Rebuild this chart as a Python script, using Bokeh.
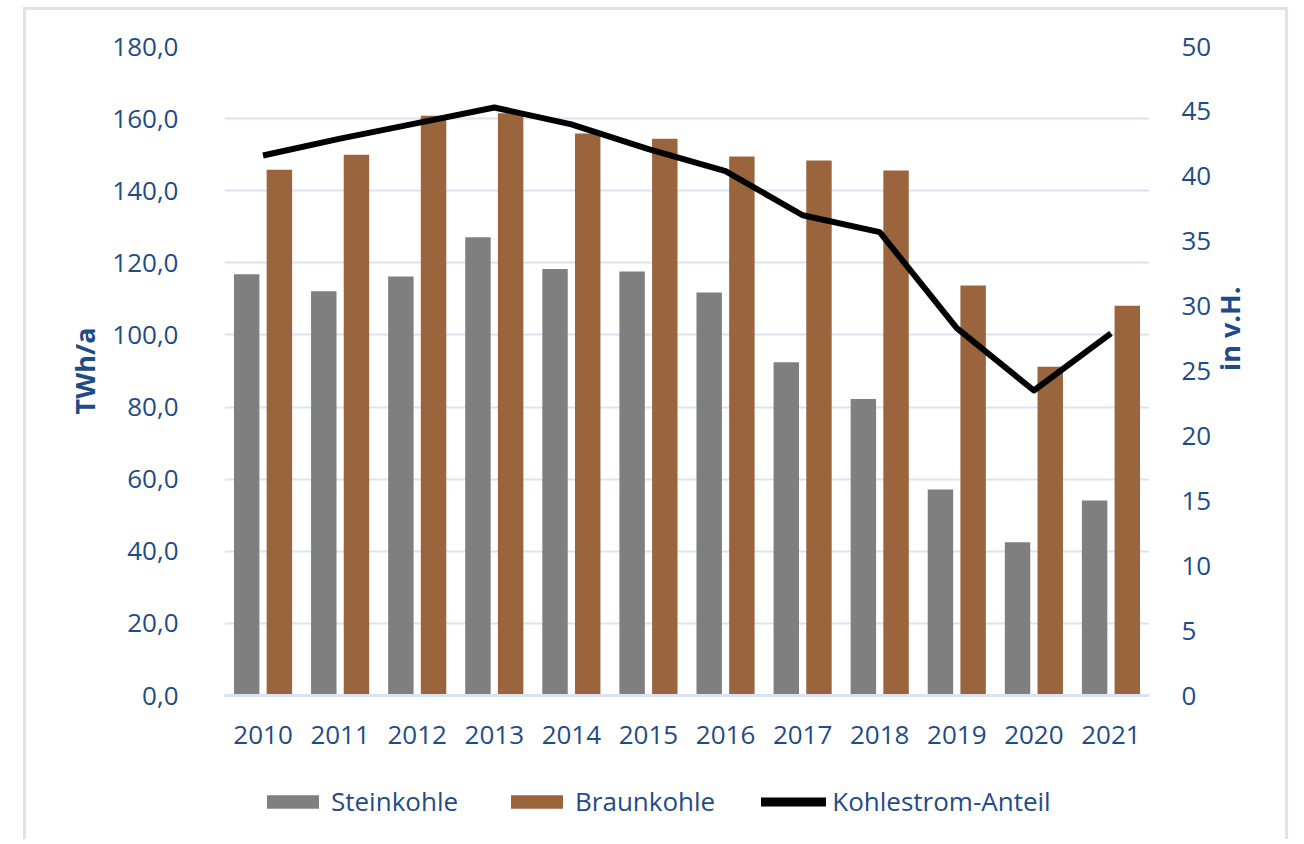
import math
from bokeh.plotting import figure
from bokeh.layouts import column
from bokeh.models import (FactorRange, Range1d, LinearAxis, FixedTicker, Legend, LegendItem,
                          ColumnDataSource)
from bokeh.transform import dodge
from bokeh.embed import file_html
from bokeh.resources import INLINE

years = ["2010", "2011", "2012", "2013", "2014", "2015", "2016", "2017", "2018", "2019", "2020", "2021"]
steinkohle = [116.8, 112.1, 116.2, 127.1, 118.3, 117.6, 111.8, 92.4, 82.2, 57.1, 42.5, 54.1]
braunkohle = [145.8, 150.0, 160.8, 161.5, 155.9, 154.4, 149.5, 148.4, 145.6, 113.7, 91.2, 108.1]
anteil = [41.6, 42.9, 44.1, 45.3, 44.0, 42.1, 40.4, 37.0, 35.7, 28.3, 23.5, 27.9]

left_ticks = [0, 20, 40, 60, 80, 100, 120, 140, 160, 180]
left_labels = ["0,0", "20,0", "40,0", "60,0", "80,0", "100,0", "120,0", "140,0", "160,0", "180,0"]
right_ticks = [0, 5, 10, 15, 20, 25, 30, 35, 40, 45, 50]
series_names = ["Steinkohle", "Braunkohle", "Kohlestrom-Anteil"]

TXT = "#1f4c86"
GRID = "#dae3f3"
FONT = "Open Sans"
STEIN_C = "#7f7f7f"
BRAUN_C = "#9a643d"

src = ColumnDataSource(dict(year=years, stein=steinkohle, braun=braunkohle, anteil=anteil))
xr = FactorRange(*years)

# ---------------- main chart ----------------
p = figure(x_range=xr, y_range=Range1d(0, 180),
           width=1265, height=750, output_backend="svg", toolbar_location=None,
           min_border_left=198, min_border_right=142, min_border_top=36, min_border_bottom=65)
p.margin = (7, 0, 0, 23)
p.styles = {"border-top": f"3px solid {GRID}", "border-left": f"3px solid {GRID}",
            "border-right": f"3px solid {GRID}"}
p.outline_line_color = None
p.background_fill_color = "white"
p.border_fill_color = "white"
p.extra_y_ranges = {"pct": Range1d(0, 50)}

p.vbar(x=dodge("year", -0.212, range=xr), top="stein", width=0.33, source=src,
       fill_color=STEIN_C, line_color=None)
p.vbar(x=dodge("year", 0.212, range=xr), top="braun", width=0.33, source=src,
       fill_color=BRAUN_C, line_color=None)
p.line(x="year", y="anteil", source=src, y_range_name="pct",
       line_color="black", line_width=6, line_join="round")

ya = p.yaxis[0]
ya.ticker = FixedTicker(ticks=left_ticks)
ya.major_label_overrides = {t: l for t, l in zip(left_ticks, left_labels)}
ya.axis_label = "TWh/a"

ra = LinearAxis(y_range_name="pct", ticker=FixedTicker(ticks=right_ticks), axis_label="in v.H.")
p.add_layout(ra, "right")

for ax in [ya, ra]:
    ax.axis_line_color = None
    ax.major_tick_line_color = None
    ax.minor_tick_line_color = None
    ax.major_label_text_font = FONT
    ax.major_label_text_font_size = "26px"
    ax.major_label_text_color = TXT
    ax.axis_label_text_font = FONT
    ax.axis_label_text_font_size = "27px"
    ax.axis_label_text_font_style = "bold"
    ax.axis_label_text_color = TXT
ya.axis_label_standoff = 6
ra.axis_label_standoff = 15
ra.axis_label_orientation = math.pi / 2
ya.major_label_standoff = 40
ra.major_label_standoff = 26

xa = p.xaxis[0]
xa.axis_line_color = GRID
xa.axis_line_width = 3
xa.major_tick_line_color = None
xa.minor_tick_line_color = None
xa.major_label_text_font = FONT
xa.major_label_text_font_size = "26px"
xa.major_label_text_color = TXT
xa.major_label_standoff = 24

p.xgrid.grid_line_color = None
p.ygrid.grid_line_color = GRID
p.ygrid.grid_line_width = 2

# ---------------- legend strip ----------------
p2 = figure(x_range=xr, y_range=Range1d(1000, 1001), width=1265, height=82,
            output_backend="svg", toolbar_location=None, x_axis_type=None, y_axis_type=None,
            min_border_left=0, min_border_right=0, min_border_top=0, min_border_bottom=0)
p2.margin = (0, 0, 0, 23)
p2.styles = {"border-left": f"3px solid {GRID}", "border-right": f"3px solid {GRID}"}
p2.outline_line_color = None
p2.xgrid.grid_line_color = None
p2.ygrid.grid_line_color = None
p2.background_fill_color = "white"
p2.border_fill_color = "white"

l_stein = p2.vbar(x=dodge("year", -0.212, range=xr), top="stein", width=0.33, source=src,
                  fill_color=STEIN_C, line_color=None)
l_braun = p2.vbar(x=dodge("year", 0.212, range=xr), top="braun", width=0.33, source=src,
                  fill_color=BRAUN_C, line_color=None)
l_line = p2.line(x="year", y="anteil", source=src, line_color="black", line_width=9,
                 line_cap="round")

legend = Legend(items=[LegendItem(label=series_names[0], renderers=[l_stein]),
                       LegendItem(label=series_names[1], renderers=[l_braun]),
                       LegendItem(label=series_names[2], renderers=[l_line])],
                orientation="horizontal", location=(36, 20))
legend.glyph_width = 65
legend.glyph_height = 17
legend.label_standoff = 6
legend.spacing = 46
legend.padding = 0
legend.margin = 0
legend.border_line_color = None
legend.background_fill_alpha = 0
legend.label_text_font = FONT
legend.label_text_font_size = "26px"
legend.label_text_color = TXT
p2.add_layout(legend, "center")

lay = column(p, p2, spacing=0)
open("out.html", "w").write(file_html(lay, INLINE))
